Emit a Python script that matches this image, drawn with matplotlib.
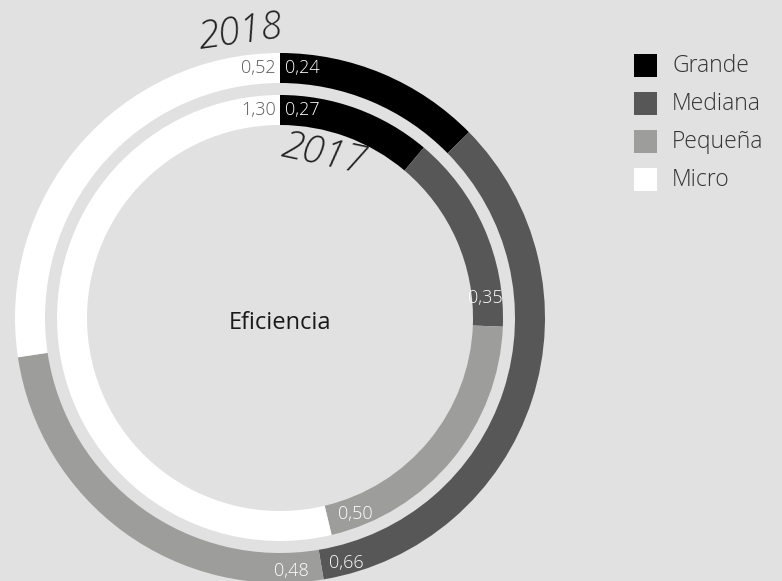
import matplotlib
matplotlib.use("Agg")
import matplotlib.pyplot as plt
import numpy as np

categories = ["Grande", "Mediana", "Pequeña", "Micro"]
values_2018 = [0.24, 0.66, 0.48, 0.52]
values_2017 = [0.27, 0.35, 0.50, 1.30]
labels_2018 = ["0,24", "0,66", "0,48", "0,52"]
labels_2017 = ["0,27", "0,35", "0,50", "1,30"]
colors = ["#000000", "#575757", "#9d9d9c", "#ffffff"]
bg = "#e1e1e1"

W, H = 782, 581
fig = plt.figure(figsize=(W / 100, H / 100), dpi=100, facecolor=bg)
ax = fig.add_axes([0, 0, 1, 1])
ax.set_facecolor(bg)

cx, cy = 280, H - 318
R_out, w_out = 265, 30
R_in, w_in = 223, 30

ax.pie(values_2018, radius=R_out, center=(cx, cy), startangle=90, counterclock=False,
       colors=colors, wedgeprops=dict(width=w_out, linewidth=0))
ax.pie(values_2017, radius=R_in, center=(cx, cy), startangle=90, counterclock=False,
       colors=colors, wedgeprops=dict(width=w_in, linewidth=0))
ax.set_xlim(0, W)
ax.set_ylim(0, H)
ax.set_aspect("equal")
ax.axis("off")

FONT = ["Open Sans", "DejaVu Sans"]


def boundary(vals, idx_end, r):
    """point on the ring at the end of segment idx_end (clockwise from top)"""
    tot = sum(vals)
    frac = sum(vals[: idx_end + 1]) / tot
    ang = np.deg2rad(90 - 360 * frac)
    return cx + r * np.cos(ang), cy + r * np.sin(ang)


def lab(text, xy, dx, dy, ha, va, color):
    ax.annotate(text, xy=xy, xytext=(dx, dy), textcoords="offset pixels",
                ha=ha, va=va, fontsize=13, color=color, family=FONT, fontweight="light")


rm_out = R_out - w_out / 2
rm_in = R_in - w_in / 2
# 2018 ring
lab(labels_2018[0], boundary(values_2018, -1, rm_out), 5, 0, "left", "center", "white")
lab(labels_2018[3], boundary(values_2018, -1, rm_out), -4, 0, "right", "center", "#595959")
lab(labels_2018[1], boundary(values_2018, 1, rm_out), 8, 2, "left", "center", "white")
lab(labels_2018[2], boundary(values_2018, 1, rm_out), -12, -6, "right", "center", "white")
# 2017 ring
lab(labels_2017[0], boundary(values_2017, -1, rm_in), 5, 0, "left", "center", "white")
lab(labels_2017[3], boundary(values_2017, -1, rm_in), -4, 0, "right", "center", "#595959")
lab(labels_2017[1], boundary(values_2017, 1, rm_in), -3, 28, "center", "center", "white")
lab(labels_2017[2], boundary(values_2017, 2, rm_in), 10, 6, "left", "center", "white")

ax.text(cx, H - 323, "Eficiencia", ha="center", va="center", fontsize=17,
        color="#1a1a1a", family=FONT)

ax.text(240, H - 33, "2018", ha="center", va="center", fontsize=28, rotation=8,
        color="#222222", family=FONT, style="italic", fontweight="light")
ax.text(323, H - 155, "2017", ha="center", va="center", fontsize=28, rotation=-12,
        color="#222222", family=FONT, style="italic", fontweight="light")

# legend
for i, (c, col) in enumerate(zip(categories, colors)):
    y = H - (65.5 + 38 * i)
    ax.add_patch(plt.Rectangle((634, y - 11.5), 23, 23, facecolor=col, edgecolor="none"))
    ax.text(672, y, c, ha="left", va="center", fontsize=16.5, color="#333333",
            family=FONT, fontweight="light")

fig.savefig("out.png", dpi=100, facecolor=bg)
